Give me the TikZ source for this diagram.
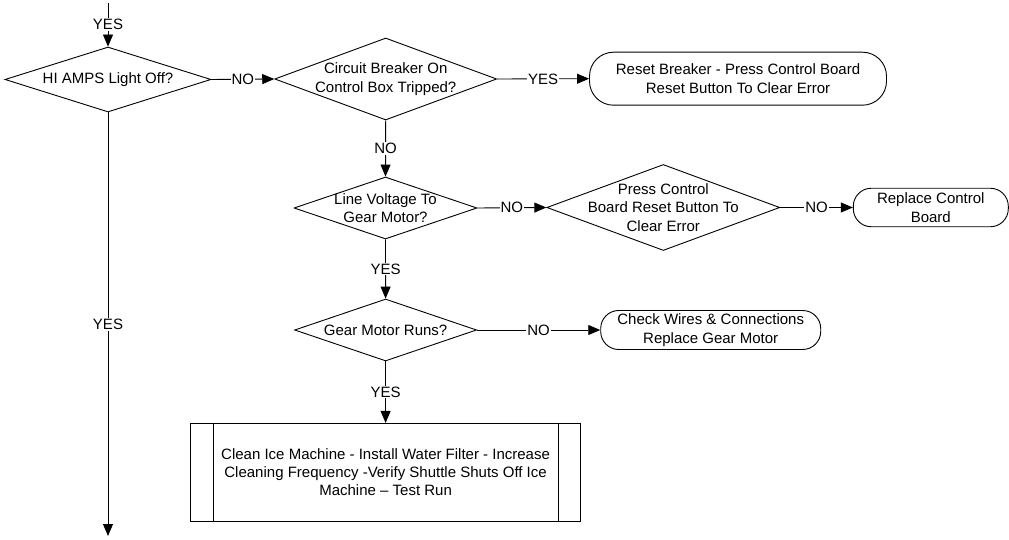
\documentclass[tikz,border=0pt]{standalone}
\usepackage{fontspec}
\setmainfont{Liberation Sans}
\usetikzlibrary{shapes.geometric,arrows.meta}
\begin{document}
\begin{tikzpicture}[x=1pt,y=-1pt,
  font=\fontsize{15}{18.3}\selectfont,
  line width=0.9pt,
  dia/.style={draw,diamond,inner sep=0pt,aspect=1},
  term/.style={draw,rectangle,rounded corners=18pt,inner sep=0pt,align=center},
  arr/.style={-{Triangle[length=12pt,width=10pt]}},
  lbl/.style={fill=white,inner sep=1pt}]
\useasboundingbox (0,0) rectangle (1009,540);

% decisions
\node[dia,minimum width=206pt,minimum height=65pt,
  label={[align=center]center:HI AMPS Light Off?}] (d1) at (108,79.5) {};
\node[dia,minimum width=222pt,minimum height=82pt,
  label={[align=center]center:Circuit Breaker On\\Control Box Tripped?}] (d2) at (385.7,79) {};
\node[dia,minimum width=183pt,minimum height=62pt,
  label={[align=center]center:Line Voltage To\\Gear Motor?}] (d3) at (385.5,208) {};
\node[dia,minimum width=233pt,minimum height=86pt,
  label={[align=center]center:Press Control\\Board Reset Button To\\Clear Error}] (d4) at (663.3,207.5) {};
\node[dia,minimum width=182pt,minimum height=62pt,
  label={[align=center]center:Gear Motor Runs?}] (d5) at (385.6,330) {};

% terminals
\node[term,rounded corners=24pt,minimum width=297pt,minimum height=53pt] (b1) at (738,78.7)
  {Reset Breaker - Press Control Board\\Reset Button To Clear Error};
\node[term,minimum width=155pt,minimum height=38.5pt] (b2) at (930.8,207.5)
  {Replace Control\\Board};
\node[term,minimum width=220pt,minimum height=39pt] (b3) at (710.7,330)
  {Check Wires \& Connections\\Replace Gear Motor};

% predefined process
\node[draw,minimum width=390pt,minimum height=97.7pt,inner sep=0pt,align=center] (sub) at (385.6,472.2)
  {Clean Ice Machine - Install Water Filter - Increase\\Cleaning Frequency -Verify Shuttle Shuts Off Ice\\Machine – Test Run};
\draw ([xshift=23pt]sub.north west) -- ([xshift=23pt]sub.south west);
\draw ([xshift=-23pt]sub.north east) -- ([xshift=-23pt]sub.south east);

% free ends
\coordinate (start) at (108,3);
\coordinate (finish) at (108,536);

% connectors
\draw[arr] (start) -- node[lbl]{YES} (d1.north);
\draw[arr] (d1.south) -- node[lbl]{YES} (finish);
\draw[arr] (d1.east) -- node[lbl]{NO} (d2.west);
\draw[arr] (d2.east) -- node[lbl]{YES} (b1.west);
\draw[arr] (d2.south) -- node[lbl]{NO} (d3.north);
\draw[arr] (d3.east) -- node[lbl]{NO} (d4.west);
\draw[arr] (d4.east) -- node[lbl]{NO} (b2.west);
\draw[arr] (d3.south) -- node[lbl]{YES} (d5.north);
\draw[arr] (d5.east) -- node[lbl]{NO} (b3.west);
\draw[arr] (d5.south) -- node[lbl]{YES} (sub.north);
\end{tikzpicture}
\end{document}
